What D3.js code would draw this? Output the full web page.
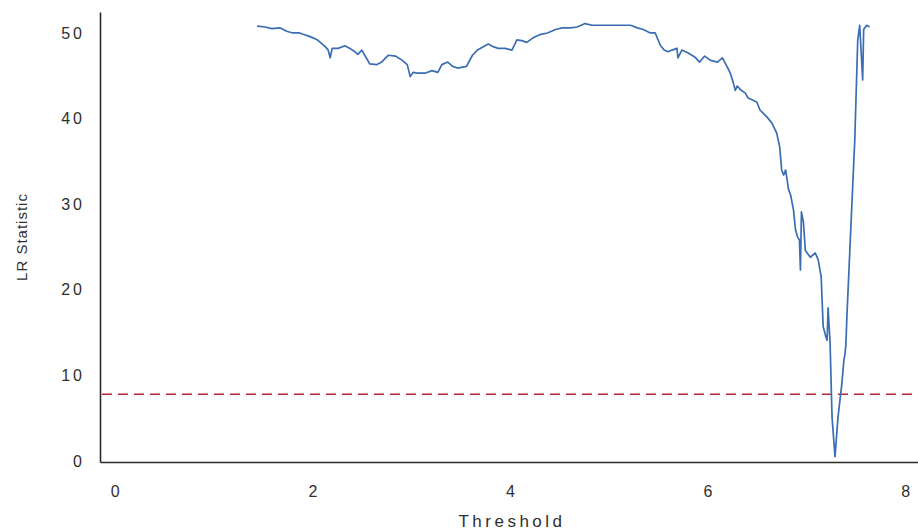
<!DOCTYPE html>
<html>
<head>
<meta charset="utf-8">
<script src="https://cdn.jsdelivr.net/npm/d3@7/dist/d3.min.js"></script>
<style>
  html, body { margin: 0; padding: 0; background: #fff; }
  svg { display: block; }
  text { font-family: "Liberation Sans", Arial, sans-serif; }
</style>
</head>
<body>
<svg id="chart" width="918" height="532"></svg>
<script>
// Likelihood-ratio statistic across candidate threshold values
const threshold = [
  1.44, 1.52, 1.59, 1.67, 1.74, 1.80, 1.87, 1.92, 1.97, 2.05,
  2.10, 2.13, 2.16, 2.18, 2.20, 2.26, 2.33, 2.38, 2.43, 2.46,
  2.50, 2.53, 2.58, 2.65, 2.70, 2.77, 2.84, 2.91, 2.96, 2.99,
  3.02, 3.06, 3.14, 3.21, 3.27, 3.31, 3.37, 3.42, 3.47, 3.56,
  3.62, 3.67, 3.73, 3.78, 3.83, 3.88, 3.95, 4.02, 4.07, 4.12,
  4.17, 4.23, 4.30, 4.38, 4.46, 4.53, 4.61, 4.68, 4.76, 4.83,
  4.91, 5.01, 5.11, 5.22, 5.29, 5.35, 5.42, 5.47, 5.52, 5.56,
  5.60, 5.64, 5.69, 5.70, 5.74, 5.80, 5.87, 5.92, 5.97, 6.03,
  6.10, 6.15, 6.20, 6.23, 6.26, 6.28, 6.30, 6.34, 6.38, 6.41,
  6.45, 6.50, 6.53, 6.60, 6.65, 6.70, 6.73, 6.75, 6.77, 6.79,
  6.82, 6.84, 6.87, 6.89, 6.91, 6.93, 6.94, 6.95, 6.97, 6.99,
  7.04, 7.09, 7.12, 7.15, 7.17, 7.20, 7.21, 7.22, 7.24, 7.26,
  7.29, 7.32, 7.36, 7.38, 7.39, 7.40, 7.41, 7.44, 7.49, 7.52,
  7.54, 7.57, 7.58, 7.61, 7.64
];
const lrStat = [
  50.8, 50.7, 50.5, 50.6, 50.2, 50.0, 50.0, 49.8, 49.6, 49.2,
  48.7, 48.4, 48.0, 47.1, 48.2, 48.2, 48.5, 48.2, 47.8, 47.5,
  48.0, 47.4, 46.4, 46.3, 46.6, 47.4, 47.3, 46.8, 46.3, 44.9,
  45.4, 45.3, 45.3, 45.6, 45.4, 46.3, 46.6, 46.1, 45.9, 46.1,
  47.4, 48.0, 48.4, 48.7, 48.4, 48.2, 48.2, 48.0, 49.2, 49.1,
  48.9, 49.4, 49.8, 50.0, 50.4, 50.6, 50.6, 50.7, 51.1, 50.9,
  50.9, 50.9, 50.9, 50.9, 50.6, 50.4, 50.0, 50.0, 48.6, 48.0,
  47.8, 48.0, 48.2, 47.1, 48.0, 47.7, 47.2, 46.6, 47.3, 46.8,
  46.6, 47.1, 46.0, 45.3, 44.2, 43.3, 43.8, 43.3, 43.0, 42.4,
  42.2, 41.9, 41.0, 40.2, 39.5, 38.3, 36.7, 34.0, 33.4, 34.0,
  31.7, 31.1, 29.3, 27.0, 26.2, 25.8, 22.3, 29.1, 27.9, 24.6,
  23.8, 24.3, 23.5, 21.5, 15.7, 14.4, 14.1, 17.9, 13.8, 5.1,
  0.5, 5.1, 9.1, 11.8, 12.4, 13.6, 16.8, 24.6, 37.5, 49.2,
  50.9, 44.5, 50.4, 50.9, 50.7
];
const criticalValue = 7.8;
const xTicks = [0, 2, 4, 6, 8];
const yTicks = [0, 10, 20, 30, 40, 50];
const xLabel = "Threshold";
const yLabel = "LR Statistic";

const svg = d3.select("#chart");
const plot = { left: 100, right: 918, top: 12, bottom: 462 };

const x = d3.scaleLinear().domain([-0.15, 8.13]).range([plot.left, plot.right]);
const y = d3.scaleLinear().domain([-0.12, 52.45]).range([plot.bottom, plot.top]);

// axes: labels only, no tick marks
const xAxis = svg.append("g")
  .attr("transform", `translate(0,${plot.bottom})`)
  .call(d3.axisBottom(x).tickValues(xTicks).tickSize(0).tickPadding(24).tickFormat(d3.format("d")));
const yAxis = svg.append("g")
  .attr("transform", `translate(${plot.left},0)`)
  .call(d3.axisLeft(y).tickValues(yTicks).tickSize(0).tickPadding(15).tickFormat(d3.format("d")));

[xAxis, yAxis].forEach(g => {
  g.select(".domain").attr("stroke", "#2b2b2b").attr("stroke-width", 1.6);
  g.selectAll("text")
    .attr("font-size", 16)
    .attr("letter-spacing", "3px")
    .attr("fill", "#2f2f2f");
});
// centre the spaced x labels on their ticks
xAxis.selectAll("text").attr("dx", 1.5);

// reference line at the critical value
svg.append("line")
  .attr("x1", plot.left + 2).attr("x2", plot.right)
  .attr("y1", y(criticalValue)).attr("y2", y(criticalValue))
  .attr("stroke", "#b02a2f")
  .attr("stroke-width", 1.5)
  .attr("stroke-dasharray", "10,6");

// LR statistic curve
const pts = threshold.map((t, i) => [t, lrStat[i]]);
svg.append("path")
  .datum(pts)
  .attr("fill", "none")
  .attr("stroke", "#3a6db3")
  .attr("stroke-width", 1.7)
  .attr("stroke-linejoin", "round")
  .attr("d", d3.line().x(d => x(d[0])).y(d => y(d[1])));

// axis titles
svg.append("text")
  .attr("x", x(4) + 2).attr("y", 527)
  .attr("text-anchor", "middle")
  .attr("font-size", 17)
  .attr("letter-spacing", "3.5px")
  .attr("fill", "#2f2f2f")
  .text(xLabel);

svg.append("text")
  .attr("transform", `translate(27,${(plot.top + plot.bottom) / 2}) rotate(-90)`)
  .attr("text-anchor", "middle")
  .attr("font-size", 15)
  .attr("letter-spacing", "1px")
  .attr("fill", "#2f2f2f")
  .text(yLabel);
</script>
</body>
</html>
